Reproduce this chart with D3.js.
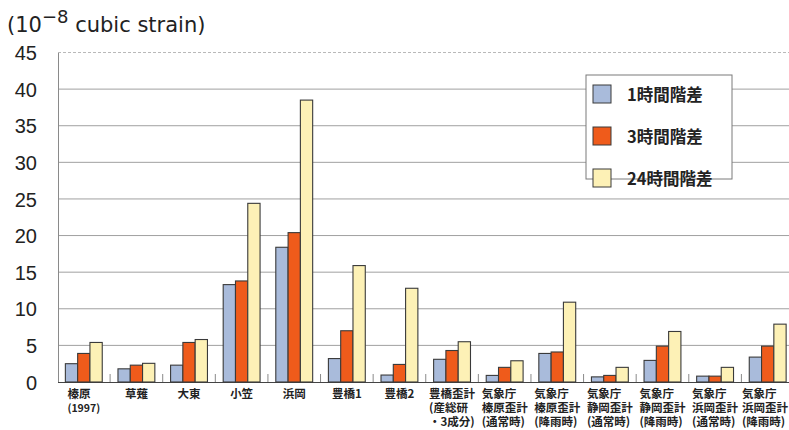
<!DOCTYPE html>
<html>
<head>
<meta charset="utf-8">
<script src="https://cdn.jsdelivr.net/npm/d3@7"></script>
<style>
  html, body { margin: 0; padding: 0; background: #ffffff; }
  svg { display: block; }
</style>
</head>
<body>
<div id="chart"></div>
<script>
// Strain-step amplitudes per observation site (units of 1e-8 cubic strain)
const categories = [
  ["榛原", "(1997)"],
  ["草薙"],
  ["大東"],
  ["小笠"],
  ["浜岡"],
  ["豊橋1"],
  ["豊橋2"],
  ["豊橋歪計", "(産総研", "・3成分)"],
  ["気象庁", "榛原歪計", "(通常時)"],
  ["気象庁", "榛原歪計", "(降雨時)"],
  ["気象庁", "静岡歪計", "(通常時)"],
  ["気象庁", "静岡歪計", "(降雨時)"],
  ["気象庁", "浜岡歪計", "(通常時)"],
  ["気象庁", "浜岡歪計", "(降雨時)"]
];
const seriesNames = ["1時間階差", "3時間階差", "24時間階差"];
const step1h  = [2.5, 1.8, 2.3, 13.3, 18.4, 3.2, 0.95, 3.1, 0.9, 3.9, 0.7, 2.95, 0.8, 3.4];
const step3h  = [3.9, 2.3, 5.4, 13.8, 20.4, 7.0, 2.4, 4.3, 2.0, 4.1, 0.9, 4.9, 0.8, 4.9];
const step24h = [5.4, 2.55, 5.8, 24.4, 38.5, 15.9, 12.8, 5.5, 2.9, 10.9, 2.0, 6.9, 2.0, 7.9];
const yTicks = [0, 5, 10, 15, 20, 25, 30, 35, 40, 45];

const colors = ["#a9bbdb", "#ef5b1b", "#fdf1b6"];
const series = [step1h, step3h, step24h];

const W = 789, H = 430;
const svg = d3.select("#chart").append("svg").attr("width", W).attr("height", H);

const keys = categories.map((c, i) => "c" + i);
const x = d3.scaleBand().domain(keys).range([57.5, 794]).paddingInner(0).paddingOuter(0);
const xs = d3.scaleBand().domain(seriesNames).range([0, x.bandwidth()]).paddingInner(0).paddingOuter(0.64);
const y = d3.scaleLinear().domain([0, 45]).range([382, 52.5]);

const numFont = "'Liberation Sans', Arial, sans-serif";
const cjkFont = "'Noto Sans CJK JP', 'Noto Sans', sans-serif";

// gridlines
svg.append("g").selectAll("line")
  .data(yTicks.filter(t => t > 0))
  .join("line")
  .attr("x1", 58).attr("x2", W)
  .attr("y1", d => y(d)).attr("y2", d => y(d))
  .attr("stroke", d => d === 45 ? "#b9b9b9" : "#a0a0a0")
  .attr("stroke-width", 1)
  .attr("stroke-dasharray", d => d === 45 ? "3,2" : null);

// y axis
const yAxis = d3.axisLeft(y).tickValues(yTicks).tickSize(0).tickPadding(21);
const gy = svg.append("g").attr("transform", "translate(58,0)").call(yAxis);
gy.select(".domain").attr("stroke", "#8a8a8a");
gy.selectAll("text")
  .attr("font-family", numFont)
  .attr("font-size", 20)
  .attr("fill", "#222")
  .attr("dy", "0.36em");

// x axis baseline with small upward separators between groups
const xAxis = d3.axisBottom(x).tickValues([]).tickSize(0);
const gx = svg.append("g").attr("transform", "translate(0,382)").call(xAxis);
gx.select(".domain").attr("stroke", "#444").attr("stroke-width", 1.2);
svg.append("g").selectAll("line")
  .data(keys.slice(1))
  .join("line")
  .attr("x1", d => x(d)).attr("x2", d => x(d))
  .attr("y1", 382).attr("y2", 374)
  .attr("stroke", "#8a8a8a");

// bars
const groups = svg.append("g").selectAll("g")
  .data(keys)
  .join("g")
  .attr("transform", d => `translate(${x(d)},0)`);
groups.selectAll("rect")
  .data((d, i) => series.map((s, j) => ({ name: seriesNames[j], value: s[i], color: colors[j] })))
  .join("rect")
  .attr("x", d => xs(d.name))
  .attr("width", xs.bandwidth())
  .attr("y", d => y(d.value))
  .attr("height", d => y(0) - y(d.value))
  .attr("fill", d => d.color)
  .attr("stroke", "#3a3a3a")
  .attr("stroke-width", 1.1);

// category labels: each block is centred under its group, lines left-aligned
const labels = svg.append("g").selectAll("text")
  .data(categories)
  .join("text")
  .attr("font-family", cjkFont)
  .attr("font-weight", "bold")
  .attr("font-size", 11.5)
  .attr("fill", "#222");
labels.each(function(lines, i) {
  const t = d3.select(this);
  const spans = lines.map((ln, k) => t.append("tspan")
    .attr("y", 398 + k * 14)
    .attr("font-size", i === 0 && k === 1 ? 10.5 : 11.5)
    .text(ln));
  const widths = spans.map(s => s.node().getComputedTextLength());
  const bw = d3.max(widths);
  const cx = x(keys[i]) + x.bandwidth() / 2;
  const left = Math.min(cx - bw / 2, W - 1 - bw);
  spans.forEach(s => s.attr("x", left));
});

// title
const title = svg.append("text")
  .attr("x", 7).attr("y", 32)
  .attr("font-family", "'DejaVu Sans', sans-serif")
  .attr("font-size", 21)
  .attr("fill", "#222");
title.append("tspan").text("(10");
title.append("tspan").attr("dy", -9).attr("font-size", 18).text("−8");
title.append("tspan").attr("dy", 9).text(" cubic strain)");

// legend
const lg = svg.append("g").attr("transform", "translate(586,75)");
lg.append("rect")
  .attr("width", 146).attr("height", 104)
  .attr("fill", "#fff").attr("stroke", "#7a7a7a").attr("stroke-width", 1);
const li = lg.selectAll("g.item")
  .data(seriesNames)
  .join("g")
  .attr("class", "item")
  .attr("transform", (d, i) => `translate(0,${10 + i * 42})`);
li.append("rect")
  .attr("x", 7).attr("y", 0)
  .attr("width", 18).attr("height", 18)
  .attr("fill", (d, i) => colors[i])
  .attr("stroke", "#3a3a3a");
li.append("text")
  .attr("x", 41).attr("y", 15.5)
  .attr("font-family", cjkFont)
  .attr("font-weight", "bold")
  .attr("font-size", 16.5)
  .attr("fill", "#222")
  .text(d => d);
</script>
</body>
</html>
